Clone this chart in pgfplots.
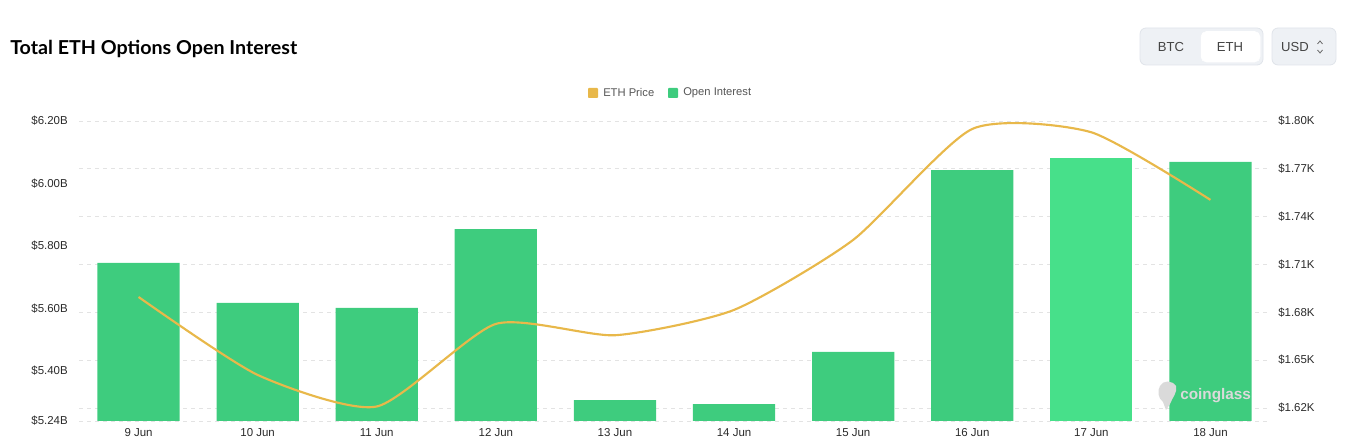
\documentclass[border=0pt]{standalone}
\usepackage{pgfplots}
\pgfplotsset{compat=1.18}
\usepackage{fontspec}
\setmainfont{Liberation Sans}
\newfontfamily\titlefont{Lato}
\definecolor{barG}{HTML}{3ECC7E}
\definecolor{barH}{HTML}{47E08A}
\definecolor{lineY}{HTML}{E8B84A}
\definecolor{gridC}{HTML}{E3E3E3}
\definecolor{txt}{HTML}{2A2A2A}
\definecolor{legtxt}{HTML}{555555}
\definecolor{btntxt}{HTML}{444444}
\definecolor{btnbg}{HTML}{EEF1F5}
\definecolor{btnbd}{HTML}{E0E4EA}
\definecolor{wm}{HTML}{DADADA}

\pgfplotstableread{
x  oi
0  5.746
1  5.618
2  5.602
3  5.854
4  5.307
5  5.294
6  5.461
7  6.043
9  6.069
}\oidata
\pgfplotstableread{
x  oi
8  6.082
}\oihigh
\pgfplotstableread{
x  price
0  1.6896
1  1.6407
2  1.6209
3  1.6727
4  1.6656
5  1.6815
6  1.7254
7  1.7950
8  1.7929
9  1.7505
}\pricedata

\pgfplotsset{
  base/.style={
    at={(59.25pt,15.75pt)}, anchor=south west,
    scale only axis, width=893.25pt, height=225pt,
    xmin=-0.5, xmax=9.5,
    major tick length=0pt,
    tick style={draw=none},
    axis line style={draw=none},
    ticklabel style={font=\fontsize{8.6pt}{10pt}\selectfont, text=txt},
  },
}

\begin{document}
\begin{tikzpicture}
\useasboundingbox (0,0) rectangle (1008.75pt,331.5pt);

% grid + right axis labels
\begin{axis}[base,
  ymin=1.6118, ymax=1.80,
  axis y line*=right, axis x line=none,
  ytick={1.62,1.65,1.68,1.71,1.74,1.77,1.80},
  yticklabels={\$1.62K,\$1.65K,\$1.68K,\$1.71K,\$1.74K,\$1.77K,\$1.80K},
  yticklabel style={inner sep=0pt, anchor=west, xshift=6pt},
  ymajorgrids, grid style={dashed, gridC, line width=0.6pt},
  extra y ticks={1.6118}, extra y tick labels={},
  extra y tick style={grid style={dashed, gridC, line width=0.6pt}},
]
\end{axis}

% bars + left axis labels + x labels
\begin{axis}[base,
  ymin=5.24, ymax=6.20,
  axis y line*=left, axis x line*=bottom,
  ytick={5.24,5.4,5.6,5.8,6.0,6.2},
  yticklabels={\$5.24B,\$5.40B,\$5.60B,\$5.80B,\$6.00B,\$6.20B},
  yticklabel style={inner sep=0pt, anchor=east, xshift=-8.25pt},
  xtick={0,...,9},
  xticklabels={9 Jun,10 Jun,11 Jun,12 Jun,13 Jun,14 Jun,15 Jun,16 Jun,17 Jun,18 Jun},
  xticklabel style={inner sep=0pt, anchor=north, yshift=-5.5pt},
]
\addplot[ybar, bar shift=0pt, bar width=61.7pt, fill=barG, draw=none] table[x=x,y=oi]{\oidata};
\addplot[ybar, bar shift=0pt, bar width=61.7pt, fill=barH, draw=none] table[x=x,y=oi]{\oihigh};
\end{axis}

% price line
\begin{axis}[base,
  ymin=1.6118, ymax=1.80,
  hide axis,
]
\addplot[lineY, line width=1.6pt, smooth, tension=0.38, no markers] table[x=x,y=price]{\pricedata};
\end{axis}

\begin{scope}[shift={(0pt,331.5pt)}, x=0.75pt, y=-0.75pt]
  % title
  \node[anchor=base west, inner sep=0pt, text=black] at (10,55)
    {\resizebox{215.25pt}{10.7pt}{\titlefont\bfseries Total ETH Options Open Interest}};
  % legend
  \fill[lineY, rounded corners=0.6pt] (588,88) rectangle (598,98);
  \node[anchor=west, inner sep=0pt, text=legtxt, font=\fontsize{8.4pt}{10pt}\selectfont] at (603,93) {ETH Price};
  \fill[barG, rounded corners=0.6pt] (668,88) rectangle (678,98);
  \node[anchor=west, inner sep=0pt, text=legtxt, font=\fontsize{8.4pt}{10pt}\selectfont] at (683,93) {Open Interest};
  % buttons
  \filldraw[fill=btnbg, draw=btnbd, rounded corners=4.5pt, line width=0.6pt] (1140,28) rectangle (1263,65);
  \filldraw[fill=white, draw=white, rounded corners=4pt] (1201,31.5) rectangle (1260,62);
  \node[text=btntxt, inner sep=0pt, font=\fontsize{9.8pt}{11pt}\selectfont] at (1171,47) {BTC};
  \node[text=btntxt, inner sep=0pt, font=\fontsize{9.8pt}{11pt}\selectfont] at (1230,47) {ETH};
  \filldraw[fill=btnbg, draw=btnbd, rounded corners=4.5pt, line width=0.6pt] (1272,28) rectangle (1336,65);
  \node[text=btntxt, inner sep=0pt, font=\fontsize{9.8pt}{11pt}\selectfont] at (1295,47) {USD};
  \draw[btntxt!80, line width=0.6pt] (1317.5,44) -- (1320,41) -- (1322.5,44);
  \draw[btntxt!80, line width=0.6pt] (1317.5,50) -- (1320,53) -- (1322.5,50);
  % watermark
  \fill[wm] (1160,386) .. controls (1163,380) and (1172,380) .. (1176,386)
     .. controls (1178,392) and (1172,398) .. (1170,404) -- (1166,410) -- (1163,402)
     .. controls (1158,398) and (1157,391) .. cycle;
  \node[anchor=west, inner sep=0pt, text=wm, font=\fontsize{11.5pt}{13pt}\selectfont\bfseries] at (1180,396) {coinglass};
\end{scope}
\end{tikzpicture}
\end{document}
